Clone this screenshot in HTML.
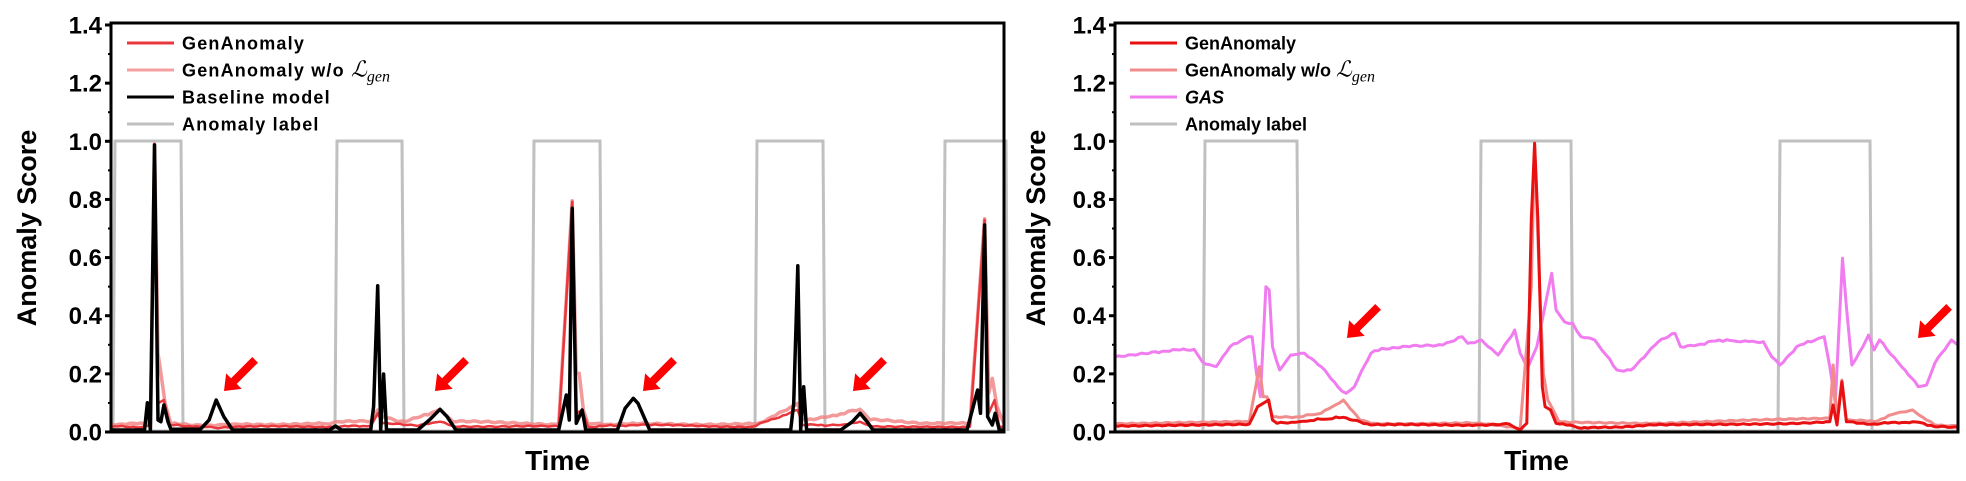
<!DOCTYPE html>
<html><head><meta charset="utf-8"><style>
html,body{margin:0;padding:0;background:#fff;}
svg{display:block;font-family:"Liberation Sans",Arial,sans-serif;font-weight:bold;}
</style></head><body>
<svg id="s" width="1966" height="481" xmlns="http://www.w3.org/2000/svg"></svg>
<script>
const S=document.getElementById('s');let out='';
function ln(pts,col,w,op){out+=`<polyline fill="none" stroke="${col}" stroke-width="${w}" ${op?`stroke-opacity="${op}"`:''} stroke-linejoin="round" points="${pts.map(p=>p[0].toFixed(1)+','+p[1].toFixed(1)).join(' ')}"/>`;}
function noisy(raw,amp,seed){
 let r=[];for(let i=0;i<raw.length-1;i++){const a=raw[i],b=raw[i+1];const n=Math.max(1,Math.floor((b[0]-a[0])/6));for(let k=0;k<n;k++){const t=k/n;const x=a[0]+(b[0]-a[0])*t;let y=a[1]+(b[1]-a[1])*t;if(k>0)y+=amp*Math.sin(x*1.7+seed)*Math.sin(x*0.37+seed*2);r.push([x,y]);}}r.push(raw[raw.length-1]);return r;}
const LX=p=>111+(p-18)*0.5875, LY=p=>120+p/3;
const RX=p=>1115+(p-27)*0.5528, RY=p=>120+p/3;
function map(a,fx,fy){return a.map(p=>[fx(p[0]),fy(p[1])]);}
function frame(x0,x1,y0,y1){
 out+=`<rect x="${x0}" y="${y0}" width="${x1-x0}" height="${y1-y0}" fill="none" stroke="#000" stroke-width="3"/>`;
 const lab=['0.0','0.2','0.4','0.6','0.8','1.0','1.2','1.4'];
 for(let i=0;i<=14;i++){const y=y1-i*(y1-y0-2)/14;if(i%2==0){out+=`<line x1="${x0-6}" x2="${x0}" y1="${y}" y2="${y}" stroke="#000" stroke-width="3"/>`;out+=`<text x="${x0-9}" y="${y+8.5}" font-size="24" text-anchor="end">${lab[i/2]}</text>`;}else out+=`<line x1="${x0-3}" x2="${x0}" y1="${y}" y2="${y}" stroke="#000" stroke-width="2"/>`;}
 out+=`<text x="${(x0+x1)/2}" y="470" font-size="28" text-anchor="middle">Time</text>`;
}
function boxes(bs){for(const b of bs){out+=`<polyline fill="none" stroke="#c0c0c0" stroke-width="3" points="${b[0]},431 ${b[0]+2},141 ${b[1]-2},141 ${b[1]},431"/>`;}}
function arrow(x,y){out+=`<g transform="translate(${x},${y}) rotate(-45)"><polygon points="0,0 14,-11 14,-4 44,-4 44,4 14,4 14,11" fill="#f00"/></g>`;}
boxes([[113,183],[335,404],[532,602],[755,825],[943,1008]]);
out+=`<line x1="111" x2="1004" y1="431" y2="431" stroke="#c0c0c0" stroke-width="3"/>`;
let pinkL=[[18,912],[75,912],[85,910],[92,72],[98,700],[103,760],[110,850],[120,912],[170,915],[200,915],[230,912],[390,912],[400,905],[460,905],[472,870],[480,890],[500,900],[520,905],[545,890],[578,868],[600,905],[780,912],[803,242],[810,760],[815,760],[822,870],[830,912],[900,912],[1110,912],[1130,905],[1187,850],[1195,900],[1240,890],[1293,868],[1310,900],[1400,910],[1480,912],[1505,296],[1512,820],[1518,775],[1526,860],[1538,912]];
let redL=[[18,920],[75,920],[85,915],[92,72],[98,850],[108,840],[118,915],[170,920],[200,925],[230,920],[390,920],[460,918],[472,880],[480,910],[540,918],[578,905],[600,918],[780,920],[803,245],[810,880],[820,870],[830,920],[907,915],[1110,920],[1187,870],[1195,915],[1260,915],[1293,905],[1310,918],[1480,920],[1505,300],[1512,880],[1522,840],[1530,920],[1538,920]];
ln(map(noisy(pinkL,4,1),LX,LY),'#f08080',3.5,0.8);
ln(map(noisy(redL,3,2),LX,LY),'#e8383d',2.5);
let blk=[[18,930],[75,930],[80,848],[85,930],[92,75],[98,900],[103,905],[108,855],[115,905],[120,928],[170,928],[185,900],[197,840],[210,890],[225,930],[390,930],[400,918],[410,930],[460,930],[465,860],[472,497],[477,930],[482,762],[487,930],[540,930],[560,900],[578,868],[590,890],[605,930],[780,930],[793,825],[798,900],[803,265],[810,910],[820,870],[826,930],[880,930],[893,865],[900,850],[907,835],[915,850],[935,930],[1175,930],[1180,850],[1187,437],[1192,930],[1197,800],[1202,930],[1260,930],[1280,905],[1293,880],[1305,905],[1315,930],[1475,930],[1493,810],[1498,880],[1505,315],[1510,890],[1518,915],[1523,880],[1530,930],[1538,930]];
ln(map(blk,LX,LY),'#000',3.5);
arrow(224,391);arrow(435,391);arrow(643,391);arrow(853,391);
frame(111,1004,23,432);
boxes([[1203,1299],[1479,1573],[1778,1872]]);
out+=`<line x1="1115" x2="1958" y1="431" y2="431" stroke="#c0c0c0" stroke-width="3"/>`;
let gas=[[27,710],[100,695],[170,688],[185,725],[210,740],[235,680],[262,655],[275,650],[283,760],[290,830],[300,500],[306,510],[312,680],[325,750],[345,705],[370,700],[400,740],[430,800],[445,820],[460,800],[490,700],[510,685],[560,680],[620,675],[655,650],[665,670],[690,660],[720,705],[750,630],[760,700],[773,745],[790,680],[800,600],[817,460],[825,570],[840,605],[855,610],[870,650],[895,660],[935,750],[960,750],[990,700],[1010,665],[1040,640],[1050,680],[1080,675],[1120,660],[1160,665],[1200,665],[1215,710],[1230,735],[1260,680],[1300,655],[1310,650],[1320,740],[1330,850],[1343,415],[1350,560],[1360,735],[1380,680],[1390,645],[1400,690],[1410,660],[1450,740],[1480,800],[1495,795],[1510,730],[1540,660],[1552,675]];
ln(map(noisy(gas,4,3),RX,RY),'#f07cf0',3);
let pinkR=[[27,912],[270,905],[288,740],[295,830],[302,830],[312,890],[360,890],[400,880],[440,840],[470,900],[490,910],[680,910],[760,925],[780,500],[786,75],[795,500],[802,760],[810,840],[830,905],[1000,910],[1320,895],[1326,735],[1333,900],[1342,780],[1350,900],[1400,905],[1440,880],[1470,870],[1495,900],[1510,915],[1552,918]];
let redR=[[27,918],[270,912],[285,860],[295,850],[305,840],[312,900],[320,910],[360,905],[400,898],[440,892],[470,905],[490,915],[680,915],[740,912],[760,930],[772,910],[780,300],[786,70],[792,300],[800,800],[805,860],[815,870],[825,910],[850,915],[870,925],[1000,915],[1200,912],[1320,905],[1326,855],[1333,915],[1342,785],[1350,905],[1400,912],[1470,905],[1490,910],[1510,920],[1552,922]];
ln(map(noisy(pinkR,3,4),RX,RY),'#f08c8c',3);
ln(map(noisy(redR,3,5),RX,RY),'#e81010',3);
arrow(1347,338);arrow(1918,338);
frame(1115,1958,23,432);
out+=`<text transform="translate(36,228) rotate(-90)" font-size="27" text-anchor="middle">Anomaly Score</text>`;
out+=`<text transform="translate(1045,228) rotate(-90)" font-size="27" text-anchor="middle">Anomaly Score</text>`;
function legend(x,y0,dy,fs,ls,items){items.forEach((it,i)=>{const y=y0+i*dy;out+=`<line x1="${x}" x2="${x+47}" y1="${y}" y2="${y}" stroke="${it[1]}" stroke-width="3"/>`;out+=`<text x="${x+55}" y="${y+fs*0.36}" font-size="${fs}" letter-spacing="${ls}" ${it[2]?'font-style="italic"':''}>${it[0]}</text>`;});}
const Lgen='<tspan font-weight="normal" font-family="Liberation Serif,serif" font-style="italic" font-size="22" letter-spacing="0">ℒ</tspan><tspan font-weight="normal" font-family="Liberation Serif,serif" font-style="italic" font-size="16" dy="5" letter-spacing="0">gen</tspan>';
legend(127,43,27,18,1.2,[['GenAnomaly','#e8383d'],['GenAnomaly w/o '+Lgen,'#f4a0a0'],['Baseline model','#000'],['Anomaly label','#c0c0c0']]);
legend(1130,43,27,18,0,[['GenAnomaly','#e81010'],['GenAnomaly w/o  '+Lgen,'#f08c8c'],['GAS','#f07cf0',1],['Anomaly label','#c0c0c0']]);
S.innerHTML=out;
</script>
</body></html>
